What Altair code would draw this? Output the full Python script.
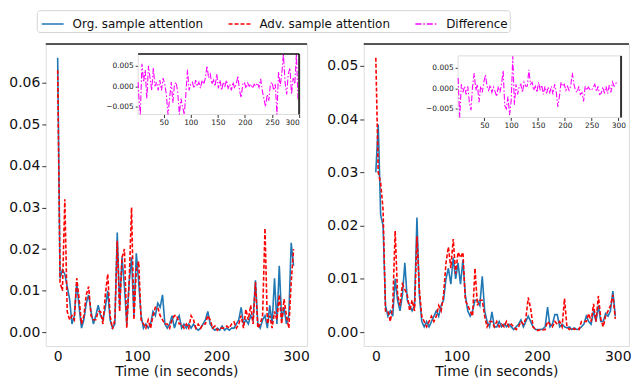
import altair as alt
import pandas as pd

SERIES = ["Org. sample attention", "Adv. sample attention", "Difference"]
COLORS = ["#1f77b4", "#ff0000", "#ff00ff"]
DASHES = [[1, 0], [4, 2], [6, 2, 1.5, 2]]

t_main = list(range(0, 300, 3))
t_diff = list(range(1, 300, 3))

left_org = [0.066, 0.013, 0.015, 0.014, 0.011, 0.008, 0.002, 0.004, 0.012, 0.006,
            0.001, 0.003, 0.007, 0.009, 0.005, 0.002, 0.004, 0.0065, 0.004, 0.003,
            0.006, 0.010, 0.003, 0.001, 0.002, 0.024, 0.006, 0.018, 0.011, 0.002,
            0.012, 0.018, 0.004, 0.019, 0.012, 0.004, 0.001, 0.002, 0.001, 0.002,
            0.005, 0.004, 0.007, 0.006, 0.009, 0.002, 0.001, 0.002, 0.004, 0.001,
            0.003, 0.004, 0.001, 0.002, 0.001, 0.002, 0.001, 0.002, 0.001, 0.0005,
            0.001, 0.002, 0.003, 0.005, 0.002, 0.001, 0.0005, 0.001, 0.0005, 0.0015,
            0.0005, 0.001, 0.0005, 0.001, 0.001, 0.002, 0.003, 0.006, 0.002, 0.003,
            0.002, 0.004, 0.003, 0.0125, 0.002, 0.001, 0.003, 0.004, 0.001, 0.0065,
            0.002, 0.013, 0.002, 0.016, 0.003, 0.006, 0.002, 0.004, 0.0215, 0.016]
left_adv = [0.063, 0.012, 0.010, 0.032, 0.005, 0.003, 0.004, 0.003, 0.013, 0.008,
            0.002, 0.004, 0.009, 0.011, 0.004, 0.003, 0.003, 0.005, 0.005, 0.002,
            0.009, 0.014, 0.004, 0.0008, 0.003, 0.022, 0.005, 0.018, 0.020, 0.001,
            0.012, 0.030, 0.003, 0.015, 0.017, 0.003, 0.002, 0.001, 0.003, 0.001,
            0.004, 0.006, 0.006, 0.004, 0.003, 0.002, 0.002, 0.001, 0.003, 0.004,
            0.004, 0.002, 0.002, 0.001, 0.002, 0.001, 0.004, 0.003, 0.001, 0.002,
            0.001, 0.002, 0.002, 0.004, 0.003, 0.001, 0.0015, 0.0005, 0.001, 0.001,
            0.001, 0.0015, 0.001, 0.002, 0.0025, 0.001, 0.002, 0.004, 0.001, 0.0055,
            0.003, 0.0065, 0.002, 0.012, 0.001, 0.002, 0.004, 0.025, 0.002, 0.004,
            0.001, 0.005, 0.003, 0.009, 0.002, 0.008, 0.004, 0.001, 0.012, 0.020]
left_diff = [0.001, -0.002, -0.0075, 0.0055, 0.001, 0.004, -0.003, 0.005, 0.002, -0.001,
             0.0045, 0.0, 0.001, -0.001, 0.0015, -0.001, 0.002, 0.0005, -0.002, -0.0075,
             -0.003, 0.001, -0.004, 0.0005, 0.001, -0.0015, -0.0075, -0.003, -0.005, -0.0075,
             -0.002, 0.004, -0.001, 0.0005, 0.001, -0.0005, 0.0015, 0.0, 0.001, -0.0005,
             0.0015, 0.0005, 0.002, 0.005, 0.002, 0.003, 0.0005, 0.0015, 0.0, 0.003,
             -0.0005, 0.0015, -0.001, 0.001, 0.0, 0.0015, -0.0005, 0.0005, -0.001, 0.001,
             -0.0005, 0.0005, 0.0025, -0.001, -0.0028, 0.0005, 0.001, -0.0005, 0.0008, 0.0,
             0.0005, -0.0005, 0.0005, 0.0, 0.0008, -0.0003, 0.0018, -0.001, -0.003, -0.005,
             -0.002, -0.0035, 0.0005, 0.001, -0.001, 0.0005, -0.0075, 0.0035, 0.0, 0.003,
             0.0085, 0.001, -0.002, 0.003, 0.0045, -0.002, 0.002, 0.0005, 0.0085, -0.0035]

right_org = [0.030, 0.039, 0.022, 0.020, 0.005, 0.003, 0.004, 0.003, 0.010, 0.006,
             0.004, 0.007, 0.013, 0.006, 0.005, 0.004, 0.005, 0.0215, 0.007, 0.002,
             0.001, 0.002, 0.001, 0.002, 0.003, 0.004, 0.003, 0.005, 0.006, 0.010,
             0.012, 0.009, 0.014, 0.010, 0.013, 0.009, 0.0135, 0.007, 0.004, 0.003,
             0.004, 0.006, 0.006, 0.005, 0.0105, 0.004, 0.002, 0.001, 0.0038, 0.001,
             0.001, 0.002, 0.001, 0.0015, 0.001, 0.0015, 0.001, 0.0005, 0.001, 0.0015,
             0.0023, 0.001, 0.002, 0.003, 0.002, 0.001, 0.0005, 0.0005, 0.0005, 0.0006,
             0.001, 0.0047, 0.001, 0.0015, 0.0033, 0.0033, 0.001, 0.0015, 0.001, 0.0008,
             0.001, 0.0005, 0.0008, 0.0005, 0.0006, 0.001, 0.0015, 0.003, 0.002, 0.0015,
             0.004, 0.002, 0.005, 0.002, 0.002, 0.0035, 0.003, 0.004, 0.0077, 0.003]
right_adv = [0.0515, 0.030, 0.028, 0.023, 0.004, 0.004, 0.002, 0.005, 0.019, 0.007,
             0.005, 0.009, 0.008, 0.007, 0.004, 0.006, 0.004, 0.018, 0.008, 0.003,
             0.002, 0.001, 0.002, 0.003, 0.002, 0.003, 0.005, 0.004, 0.007, 0.013,
             0.016, 0.012, 0.0175, 0.011, 0.015, 0.014, 0.015, 0.006, 0.005, 0.004,
             0.003, 0.012, 0.005, 0.006, 0.006, 0.003, 0.001, 0.002, 0.002, 0.001,
             0.002, 0.001, 0.0015, 0.001, 0.002, 0.001, 0.0015, 0.001, 0.0005, 0.001,
             0.002, 0.0015, 0.0025, 0.0065, 0.0045, 0.001, 0.0005, 0.0003, 0.0005, 0.0004,
             0.0005, 0.002, 0.0015, 0.001, 0.002, 0.0015, 0.002, 0.001, 0.0063, 0.001,
             0.0005, 0.0008, 0.0005, 0.0006, 0.0005, 0.002, 0.002, 0.002, 0.0035, 0.002,
             0.0053, 0.002, 0.0068, 0.0025, 0.001, 0.003, 0.004, 0.005, 0.007, 0.0025]
right_diff = [0.0025, -0.0075, 0.001, -0.001, 0.0005, -0.0015, 0.0005, -0.0034, -0.0053, 0.0005,
              0.0037, -0.0005, 0.001, -0.0034, 0.0005, -0.001, 0.0015, 0.0033, 0.0005, -0.0005,
              0.0008, -0.001, 0.0003, -0.0008, -0.002, 0.0005, -0.001, 0.001, 0.0043, -0.0042,
              -0.005, -0.002, -0.0065, -0.003, 0.0078, -0.004, 0.001, -0.0015, 0.0005, 0.001,
              -0.001, 0.0015, 0.0005, 0.0005, 0.0045, 0.001, 0.0015, -0.0005, 0.0005, -0.001,
              0.0015, -0.0003, 0.0008, -0.0015, 0.0005, -0.0012, 0.0003, -0.001, 0.0005, -0.0015,
              0.001, -0.0008, -0.0045, -0.002, 0.0015, 0.0005, 0.001, -0.0005, 0.0005, -0.0005,
              0.0005, 0.0038, 0.001, -0.0005, -0.001, 0.0005, -0.0015, -0.001, -0.0032, 0.0005,
              -0.0005, 0.0003, -0.0003, -0.0005, 0.0003, 0.001, -0.0008, 0.0005, -0.0015, -0.0012,
              0.0003, -0.0012, 0.0005, -0.0013, 0.0008, -0.001, 0.0015, 0.0005, 0.0012, 0.0015]

FONT = "DejaVu Sans"

LEGEND = alt.Legend(
    title=None, orient="none", legendX=-9, legendY=-34, direction="horizontal",
    symbolType="stroke", symbolSize=484, symbolStrokeWidth=1.5,
    labelFontSize=12, labelFont=FONT, labelColor="#111", labelOffset=8,
    labelLimit=400, columnPadding=22, padding=2, strokeColor="#d4d4d4",
    cornerRadius=3, fillColor="white", symbolOffset=2,
)


def color_enc():
    return alt.Color("series:N", scale=alt.Scale(domain=SERIES, range=COLORS), legend=LEGEND)


def dash_enc():
    return alt.StrokeDash("series:N", scale=alt.Scale(domain=SERIES, range=DASHES), legend=LEGEND)


def frame(name, values):
    return pd.DataFrame({"t": t_main if name != SERIES[2] else t_diff, "v": values, "series": name})


def panel(org, adv, diff, W, H, ydom, yticks, xdom_in, xr_in, yr_in, ydom_in, inset_top_black):
    xs = alt.Scale(domain=[-15, 314], nice=False, zero=False)
    ys = alt.Scale(domain=ydom, nice=False, zero=False)
    xax = alt.Axis(values=[0, 100, 200, 300], title="Time (in seconds)", ticks=False, grid=False,
                   domain=False, labelFontSize=14, titleFontSize=14, labelFont=FONT, titleFont=FONT,
                   labelColor="#111", titleColor="#111", titleFontWeight="normal",
                   labelPadding=4, titlePadding=1)
    yax = alt.Axis(values=yticks, format=".2f", title=None, grid=False, domain=False, tickSize=4,
                   tickColor="#333", labelFontSize=14, labelFont=FONT, labelColor="#111", labelPadding=2)
    blue = alt.Chart(frame(SERIES[0], org)).mark_line(strokeWidth=1.6).encode(
        x=alt.X("t:Q", scale=xs, axis=xax), y=alt.Y("v:Q", scale=ys, axis=yax),
        color=color_enc(), strokeDash=dash_enc())
    red = alt.Chart(frame(SERIES[1], adv)).mark_line(strokeWidth=1.6).encode(
        x="t:Q", y="v:Q", color=color_enc(), strokeDash=dash_enc())
    one = pd.DataFrame({"k": [0]})
    top = alt.Chart(one).mark_rule(color="#222", strokeWidth=1.6).encode(
        x=alt.datum(-15), x2=alt.datum(314), y=alt.datum(ydom[1]))
    main = alt.layer(blue, red, top)

    xsi = alt.Scale(domain=xdom_in, range=xr_in, nice=False, zero=False, clamp=True)
    ysi = alt.Scale(domain=ydom_in, range=yr_in, nice=False, zero=False, clamp=True)
    xai = alt.Axis(orient="bottom", offset=-(H - yr_in[0]), values=[50, 100, 150, 200, 250, 300],
                   title=None, grid=False, domain=False, tickSize=3, tickColor="#333",
                   labelFontSize=7.5, labelFont=FONT, labelColor="#222", labelPadding=1)
    yai = alt.Axis(orient="left", offset=-xr_in[0], values=[-0.005, 0.0, 0.005], format=".3f",
                   title=None, grid=False, domain=False, tickSize=3, tickColor="#333",
                   labelFontSize=7.5, labelFont=FONT, labelColor="#222", labelPadding=2)
    bg = alt.Chart(one).mark_rect(fill="white", stroke="#dddddd", strokeWidth=1).encode(
        x=alt.X(datum=xdom_in[0], type="quantitative", scale=xsi, axis=xai),
        x2=alt.datum(xdom_in[1]),
        y=alt.Y(datum=ydom_in[0], type="quantitative", scale=ysi, axis=yai),
        y2=alt.datum(ydom_in[1]))
    mag = alt.Chart(frame(SERIES[2], diff)).mark_line(strokeWidth=1.1).encode(
        x="t:Q", y="v:Q", color=color_enc(), strokeDash=dash_enc())
    right_edge = alt.Chart(one).mark_rule(color="#333", strokeWidth=2).encode(
        x=alt.datum(xdom_in[1]), y=alt.datum(ydom_in[0]), y2=alt.datum(ydom_in[1]))
    layers = [bg, mag, right_edge]
    if inset_top_black:
        layers.append(alt.Chart(one).mark_rule(color="#111", strokeWidth=1.5).encode(
            x=alt.datum(xdom_in[0]), x2=alt.datum(xdom_in[1]), y=alt.datum(ydom_in[1])))
    inset = alt.layer(*layers)
    return alt.layer(main, inset).resolve_scale(x="independent", y="independent").properties(
        width=W, height=H)


H = 304
left = panel(left_org, left_adv, left_diff, 263, H, [-0.0033, 0.0693],
             [0.0, 0.01, 0.02, 0.03, 0.04, 0.05, 0.06],
             [3, 300], [93, 255], [71, 10], [-0.0069, 0.0079], True)
right = panel(right_org, right_adv, right_diff, 267, H, [-0.0026, 0.0541],
              [0.0, 0.01, 0.02, 0.03, 0.04, 0.05],
              [1, 305], [95, 259], [74, 12], [-0.0071, 0.0079], False)

chart = alt.hconcat(left, right, spacing=16).configure_view(
    stroke="#e6e6e6", strokeWidth=1
).configure(padding=0, background="white")

chart.save("out.html", embed_options={"renderer": "svg", "actions": False})
